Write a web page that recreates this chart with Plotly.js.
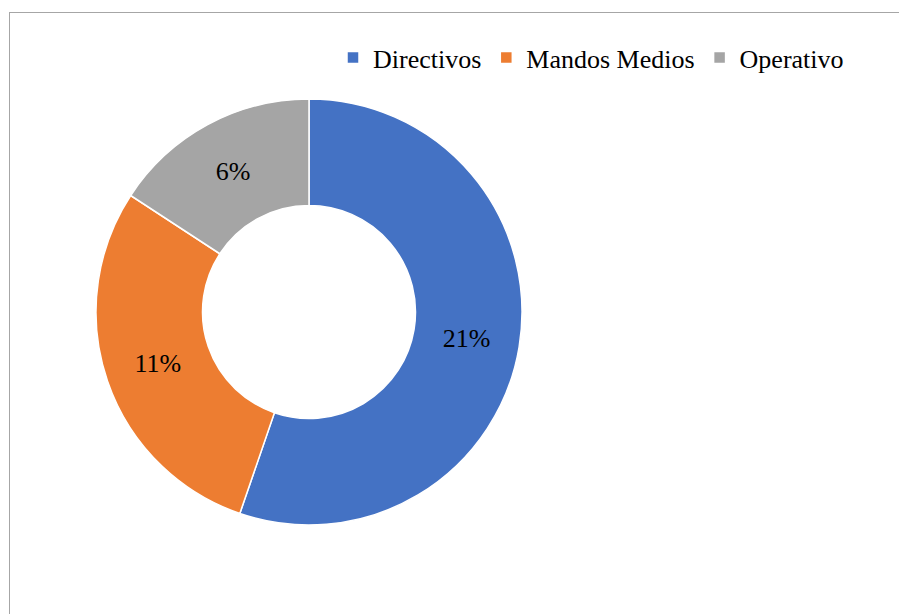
<!DOCTYPE html>
<html>
<head>
<meta charset="utf-8">
<script src="https://cdn.plot.ly/plotly-3.0.1.min.js"></script>
<style>
  html, body { margin: 0; padding: 0; background: #ffffff; }
  #wrap { position: relative; width: 899px; height: 614px; overflow: hidden; }
  #chart { position: absolute; left: 0; top: 0; width: 899px; height: 614px; }
  #frame { position: absolute; left: 9px; top: 12px; width: 900px; height: 620px;
           border-top: 1.5px solid #a6a6a6; border-left: 1.5px solid #a6a6a6; pointer-events: none; }
</style>
</head>
<body>
<div id="wrap">
  <div id="chart"></div>
  <div id="frame"></div>
</div>
<script>
const categories = ['Directivos', 'Mandos Medios', 'Operativo'];
const values = [21, 11, 6];
const labelsText = ['21%', '11%', '6%'];
const colors = ['#4472C4', '#ED7D31', '#A5A5A5'];

const serif = 'Liberation Serif';

const trace = {
  type: 'pie',
  labels: categories,
  values: values,
  text: labelsText,
  textinfo: 'text',
  textposition: 'inside',
  insidetextorientation: 'horizontal',
  hole: 0.5,
  sort: false,
  direction: 'clockwise',
  rotation: 0,
  marker: { colors: colors, line: { color: '#ffffff', width: 1.5 } },
  textfont: { family: serif, size: 26, color: '#000000' },
  domain: { x: [96/899, 522/899], y: [88/614, 516/614] },
  hoverinfo: 'label+text'
};

const layout = {
  width: 899, height: 614,
  margin: { l: 0, r: 0, t: 0, b: 0 },
  paper_bgcolor: '#ffffff',
  showlegend: true,
  legend: {
    orientation: 'h',
    x: 333/899, xanchor: 'left',
    y: 1 - 34/614, yanchor: 'top',
    font: { family: serif, size: 26, color: '#000000' },
    bgcolor: 'rgba(0,0,0,0)'
  },
  annotations: [{
    text: ' ', xref: 'paper', yref: 'paper', x: 0.8, y: 0.3,
    showarrow: false, font: { family: serif, size: 26, color: '#ffffff' }
  }]
};

Plotly.newPlot('chart', [trace], layout, { displayModeBar: false }).then(function () {
  document.querySelectorAll('#chart text').forEach(function (t) {
    t.style.setProperty('font-family', "'Liberation Serif'", 'important');
  });
});
</script>
</body>
</html>
